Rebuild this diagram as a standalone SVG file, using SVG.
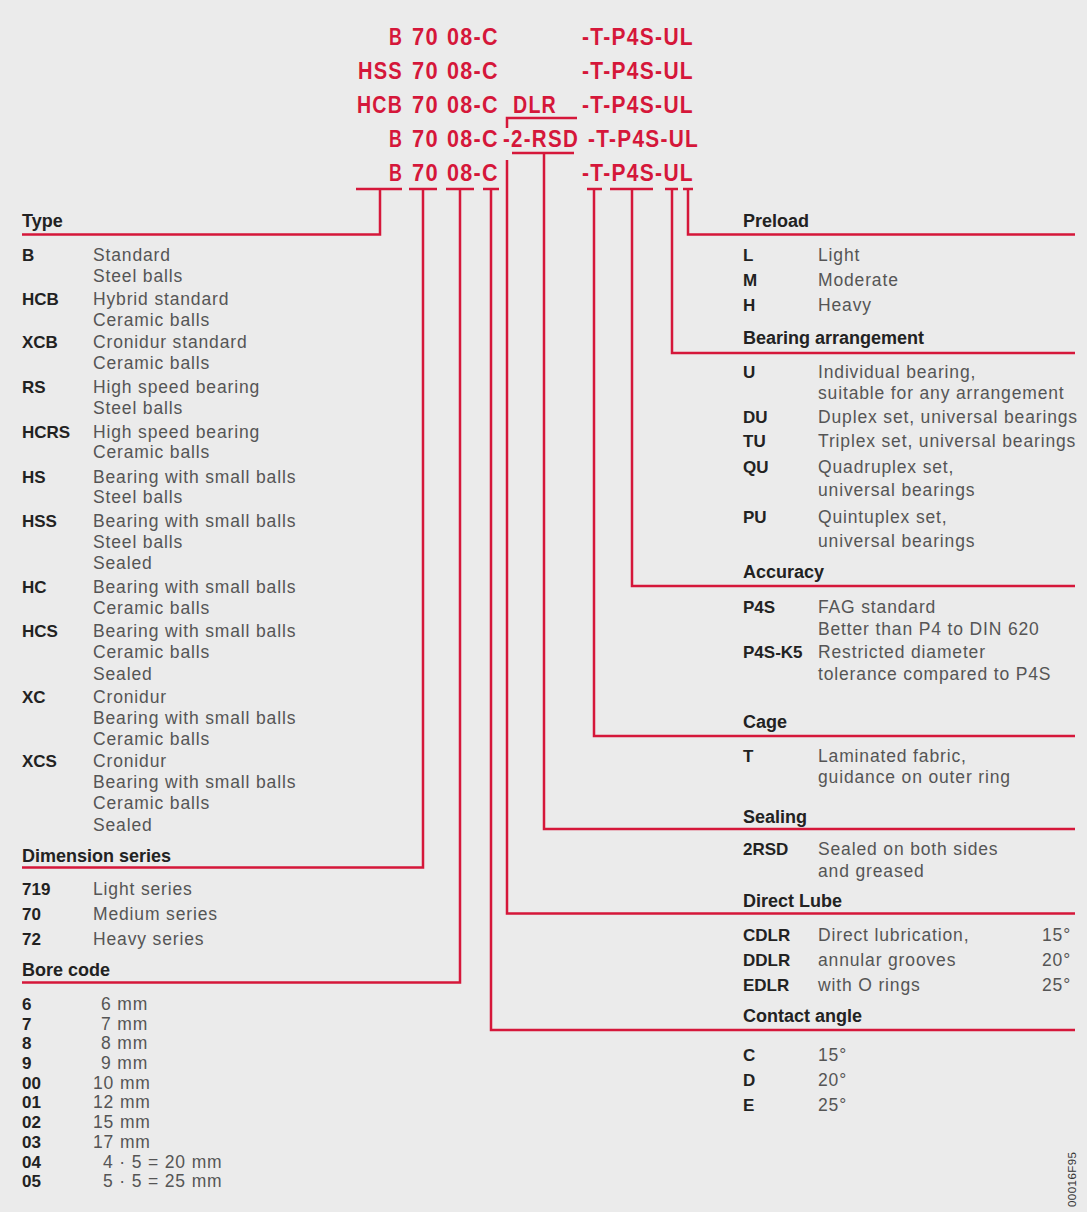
<svg xmlns="http://www.w3.org/2000/svg" width="1087" height="1212" viewBox="0 0 1087 1212">
<style>
.red{font-family:"Liberation Sans",Arial,sans-serif;font-weight:bold;font-size:24.5px;letter-spacing:1.5px;fill:#d5173a}
.h{font-family:"Liberation Sans",Arial,sans-serif;font-weight:bold;font-size:18px;fill:#222}
.c{font-family:"Liberation Sans",Arial,sans-serif;font-weight:bold;font-size:17px;fill:#222}
.d{font-family:"Liberation Sans",Arial,sans-serif;font-size:17.5px;letter-spacing:0.85px;fill:#555}
.ln{fill:none;stroke:#d5173a;stroke-width:2.5}
.fid{font-family:"Liberation Sans",Arial,sans-serif;font-size:11.5px;fill:#333}
</style>
<rect x="0" y="0" width="1087" height="1212" fill="#ebebeb"/>

<g id="designation">
  <text class="red" x="389" y="45" textLength="14" lengthAdjust="spacingAndGlyphs">B</text>
  <text class="red" x="412" y="45" textLength="27" lengthAdjust="spacingAndGlyphs">70</text>
  <text class="red" x="447" y="45" textLength="52" lengthAdjust="spacingAndGlyphs">08-C</text>
  <text class="red" x="582" y="45" textLength="112" lengthAdjust="spacingAndGlyphs">-T-P4S-UL</text>

  <text class="red" x="358" y="79" textLength="45" lengthAdjust="spacingAndGlyphs">HSS</text>
  <text class="red" x="412" y="79" textLength="27" lengthAdjust="spacingAndGlyphs">70</text>
  <text class="red" x="447" y="79" textLength="52" lengthAdjust="spacingAndGlyphs">08-C</text>
  <text class="red" x="582" y="79" textLength="112" lengthAdjust="spacingAndGlyphs">-T-P4S-UL</text>

  <text class="red" x="357" y="113" textLength="46" lengthAdjust="spacingAndGlyphs">HCB</text>
  <text class="red" x="412" y="113" textLength="27" lengthAdjust="spacingAndGlyphs">70</text>
  <text class="red" x="447" y="113" textLength="52" lengthAdjust="spacingAndGlyphs">08-C</text>
  <text class="red" x="513" y="113" textLength="44" lengthAdjust="spacingAndGlyphs">DLR</text>
  <text class="red" x="582" y="113" textLength="112" lengthAdjust="spacingAndGlyphs">-T-P4S-UL</text>

  <text class="red" x="389" y="147" textLength="14" lengthAdjust="spacingAndGlyphs">B</text>
  <text class="red" x="412" y="147" textLength="27" lengthAdjust="spacingAndGlyphs">70</text>
  <text class="red" x="447" y="147" textLength="52" lengthAdjust="spacingAndGlyphs">08-C</text>
  <text class="red" x="503" y="147" textLength="76" lengthAdjust="spacingAndGlyphs">-2-RSD</text>
  <text class="red" x="588" y="147" textLength="111" lengthAdjust="spacingAndGlyphs">-T-P4S-UL</text>

  <text class="red" x="389" y="181" textLength="14" lengthAdjust="spacingAndGlyphs">B</text>
  <text class="red" x="412" y="181" textLength="27" lengthAdjust="spacingAndGlyphs">70</text>
  <text class="red" x="447" y="181" textLength="52" lengthAdjust="spacingAndGlyphs">08-C</text>
  <text class="red" x="582" y="181" textLength="112" lengthAdjust="spacingAndGlyphs">-T-P4S-UL</text>
</g>

<g id="connectors" class="ln">
  <path d="M356,189 H402 M380,189 V234.5 H22"/>
  <path d="M409,189 H437 M423,189 V867.5 H22"/>
  <path d="M446,189 H474 M460,189 V982.5 H22"/>
  <path d="M483,189 H499 M491,189 V1030 H1075"/>
  <path d="M507,160 V913.5 H1075"/>
  <path d="M507,128 V118 H577"/>
  <path d="M512,153 H574 M544,153 V829 H1075"/>
  <path d="M587,189 H602 M594,189 V736 H1075"/>
  <path d="M610,189 H653 M632,189 V586 H1075"/>
  <path d="M665,189 H678 M672,189 V353 H1075"/>
  <path d="M683,189 H693 M688,189 V234.5 H1075"/>
</g>

<g id="type">
  <text class="h" x="22" y="227">Type</text>
  <text class="c" x="22" y="261">B</text><text class="d" x="93" y="261">Standard</text>
  <text class="d" x="93" y="282">Steel balls</text>
  <text class="c" x="22" y="305">HCB</text><text class="d" x="93" y="305">Hybrid standard</text>
  <text class="d" x="93" y="326">Ceramic balls</text>
  <text class="c" x="22" y="348">XCB</text><text class="d" x="93" y="348">Cronidur standard</text>
  <text class="d" x="93" y="369">Ceramic balls</text>
  <text class="c" x="22" y="393">RS</text><text class="d" x="93" y="393">High speed bearing</text>
  <text class="d" x="93" y="414">Steel balls</text>
  <text class="c" x="22" y="438">HCRS</text><text class="d" x="93" y="438">High speed bearing</text>
  <text class="d" x="93" y="458">Ceramic balls</text>
  <text class="c" x="22" y="483">HS</text><text class="d" x="93" y="483">Bearing with small balls</text>
  <text class="d" x="93" y="503">Steel balls</text>
  <text class="c" x="22" y="527">HSS</text><text class="d" x="93" y="527">Bearing with small balls</text>
  <text class="d" x="93" y="548">Steel balls</text>
  <text class="d" x="93" y="569">Sealed</text>
  <text class="c" x="22" y="593">HC</text><text class="d" x="93" y="593">Bearing with small balls</text>
  <text class="d" x="93" y="614">Ceramic balls</text>
  <text class="c" x="22" y="637">HCS</text><text class="d" x="93" y="637">Bearing with small balls</text>
  <text class="d" x="93" y="658">Ceramic balls</text>
  <text class="d" x="93" y="680">Sealed</text>
  <text class="c" x="22" y="703">XC</text><text class="d" x="93" y="703">Cronidur</text>
  <text class="d" x="93" y="724">Bearing with small balls</text>
  <text class="d" x="93" y="745">Ceramic balls</text>
  <text class="c" x="22" y="767">XCS</text><text class="d" x="93" y="767">Cronidur</text>
  <text class="d" x="93" y="788">Bearing with small balls</text>
  <text class="d" x="93" y="809">Ceramic balls</text>
  <text class="d" x="93" y="831">Sealed</text>
</g>

<g id="dimension-series">
  <text class="h" x="22" y="862">Dimension series</text>
  <text class="c" x="22" y="895">719</text><text class="d" x="93" y="895">Light series</text>
  <text class="c" x="22" y="920">70</text><text class="d" x="93" y="920">Medium series</text>
  <text class="c" x="22" y="945">72</text><text class="d" x="93" y="945">Heavy series</text>
</g>

<g id="bore-code">
  <text class="h" x="22" y="976">Bore code</text>
  <text class="c" x="22" y="1010">6</text><text class="d" x="101" y="1010">6 mm</text>
  <text class="c" x="22" y="1030">7</text><text class="d" x="101" y="1030">7 mm</text>
  <text class="c" x="22" y="1049">8</text><text class="d" x="101" y="1049">8 mm</text>
  <text class="c" x="22" y="1069">9</text><text class="d" x="101" y="1069">9 mm</text>
  <text class="c" x="22" y="1089">00</text><text class="d" x="93" y="1089">10 mm</text>
  <text class="c" x="22" y="1108">01</text><text class="d" x="93" y="1108">12 mm</text>
  <text class="c" x="22" y="1128">02</text><text class="d" x="93" y="1128">15 mm</text>
  <text class="c" x="22" y="1148">03</text><text class="d" x="93" y="1148">17 mm</text>
  <text class="c" x="22" y="1168">04</text><text class="d" x="103" y="1168">4 · 5 = 20 mm</text>
  <text class="c" x="22" y="1187">05</text><text class="d" x="103" y="1187">5 · 5 = 25 mm</text>
</g>

<g id="preload">
  <text class="h" x="743" y="227">Preload</text>
  <text class="c" x="743" y="261">L</text><text class="d" x="818" y="261">Light</text>
  <text class="c" x="743" y="286">M</text><text class="d" x="818" y="286">Moderate</text>
  <text class="c" x="743" y="311">H</text><text class="d" x="818" y="311">Heavy</text>
</g>

<g id="bearing-arrangement">
  <text class="h" x="743" y="344">Bearing arrangement</text>
  <text class="c" x="743" y="378">U</text><text class="d" x="818" y="378">Individual bearing,</text>
  <text class="d" x="818" y="399">suitable for any arrangement</text>
  <text class="c" x="743" y="423">DU</text><text class="d" x="818" y="423">Duplex set, universal bearings</text>
  <text class="c" x="743" y="447">TU</text><text class="d" x="818" y="447">Triplex set, universal bearings</text>
  <text class="c" x="743" y="473">QU</text><text class="d" x="818" y="473">Quadruplex set,</text>
  <text class="d" x="818" y="496">universal bearings</text>
  <text class="c" x="743" y="523">PU</text><text class="d" x="818" y="523">Quintuplex set,</text>
  <text class="d" x="818" y="547">universal bearings</text>
</g>

<g id="accuracy">
  <text class="h" x="743" y="578">Accuracy</text>
  <text class="c" x="743" y="613">P4S</text><text class="d" x="818" y="613">FAG standard</text>
  <text class="d" x="818" y="635">Better than P4 to DIN 620</text>
  <text class="c" x="743" y="658">P4S-K5</text><text class="d" x="818" y="658">Restricted diameter</text>
  <text class="d" x="818" y="680">tolerance compared to P4S</text>
</g>

<g id="cage">
  <text class="h" x="743" y="728">Cage</text>
  <text class="c" x="743" y="762">T</text><text class="d" x="818" y="762">Laminated fabric,</text>
  <text class="d" x="818" y="783">guidance on outer ring</text>
</g>

<g id="sealing">
  <text class="h" x="743" y="823">Sealing</text>
  <text class="c" x="743" y="855">2RSD</text><text class="d" x="818" y="855">Sealed on both sides</text>
  <text class="d" x="818" y="877">and greased</text>
</g>

<g id="direct-lube">
  <text class="h" x="743" y="907">Direct Lube</text>
  <text class="c" x="743" y="941">CDLR</text><text class="d" x="818" y="941">Direct lubrication,</text><text class="d" x="1071" y="941" text-anchor="end">15°</text>
  <text class="c" x="743" y="966">DDLR</text><text class="d" x="818" y="966">annular grooves</text><text class="d" x="1071" y="966" text-anchor="end">20°</text>
  <text class="c" x="743" y="991">EDLR</text><text class="d" x="818" y="991">with O rings</text><text class="d" x="1071" y="991" text-anchor="end">25°</text>
</g>

<g id="contact-angle">
  <text class="h" x="743" y="1022">Contact angle</text>
  <text class="c" x="743" y="1061">C</text><text class="d" x="818" y="1061">15°</text>
  <text class="c" x="743" y="1086">D</text><text class="d" x="818" y="1086">20°</text>
  <text class="c" x="743" y="1111">E</text><text class="d" x="818" y="1111">25°</text>
</g>

<g id="figure-id">
  <text class="fid" transform="translate(1076,1207) rotate(-90)" textLength="55">00016F95</text>
</g>
</svg>
